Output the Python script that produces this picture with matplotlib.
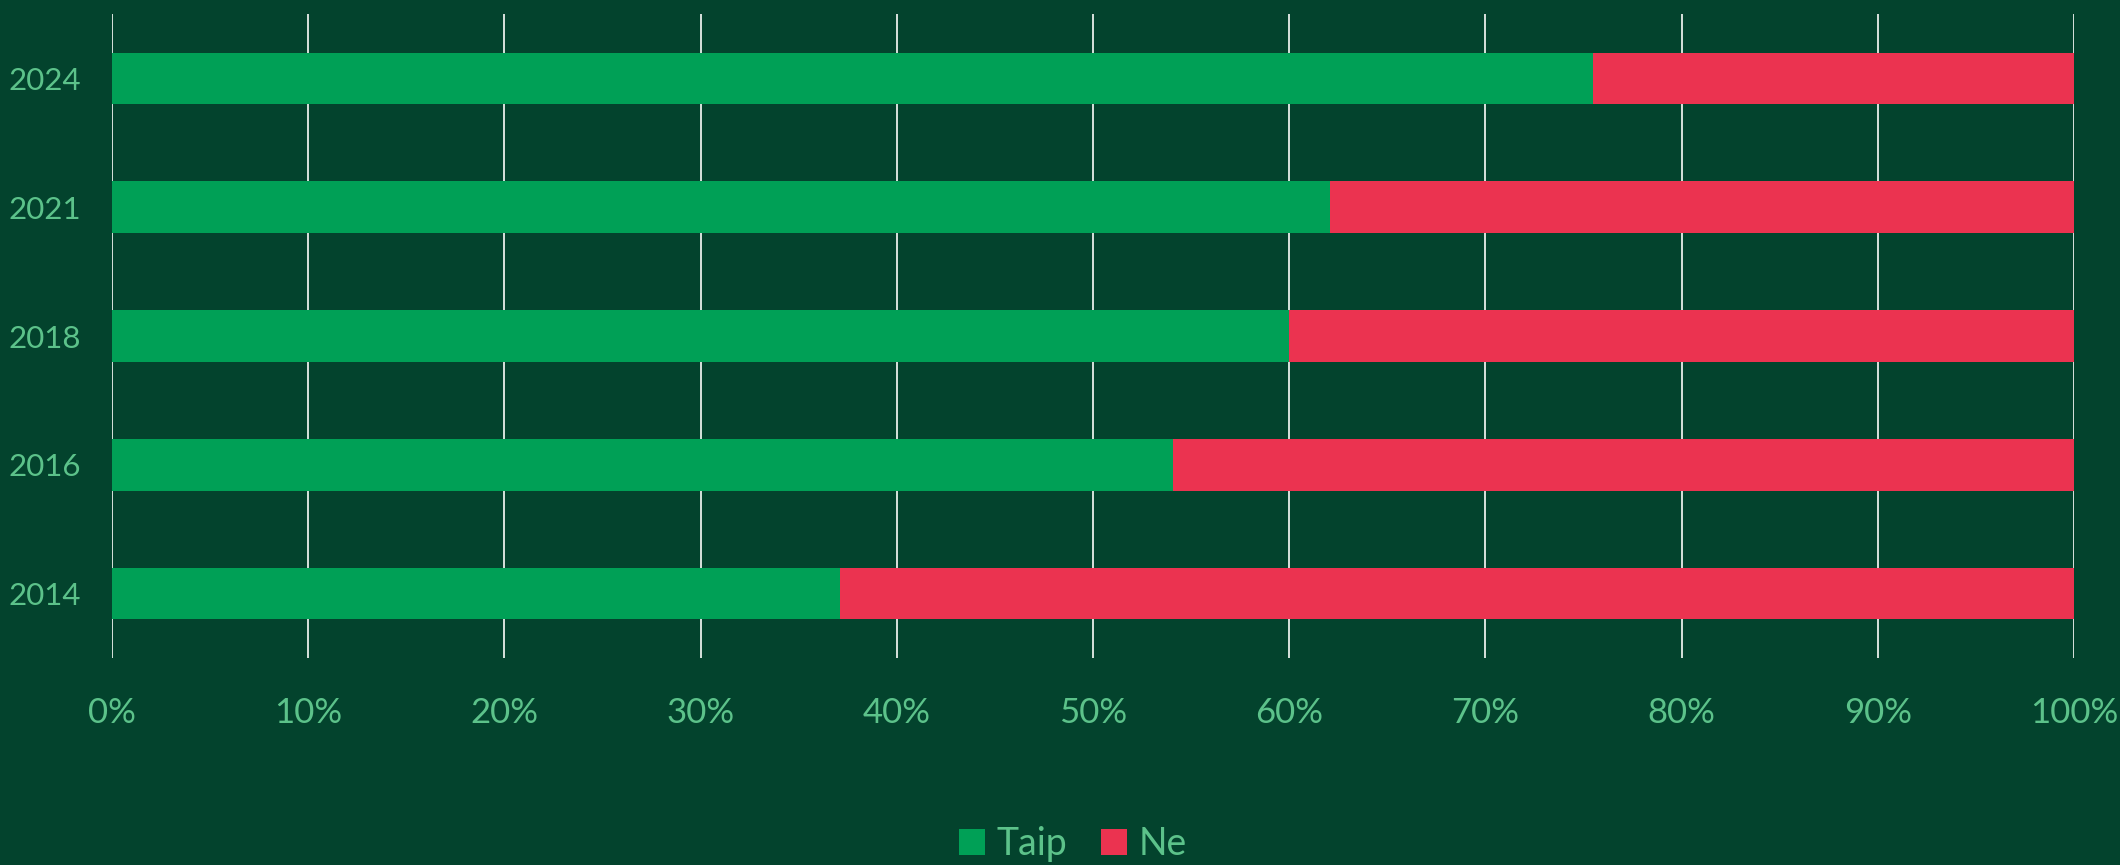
import matplotlib
matplotlib.use("Agg")
import matplotlib.pyplot as plt
from matplotlib.patches import Patch
from matplotlib.ticker import FuncFormatter, MultipleLocator

years = ["2014", "2016", "2018", "2021", "2024"]
taip = [37.1, 54.1, 60.0, 62.1, 75.5]
ne = [100 - v for v in taip]
series_names = ["Taip", "Ne"]

BG = "#03432d"
GREEN = "#00a056"
RED = "#eb3350"
TXT = "#5cc28a"
GRID = "#d8e2dc"

plt.rcParams["font.family"] = ["Lato", "DejaVu Sans"]

fig = plt.figure(figsize=(21.2, 8.65), dpi=100, facecolor=BG)
ax = fig.add_axes([0.0528, 0.2393, 0.9255, 0.7445])
ax.set_facecolor("none")

y = list(range(len(years)))
ax.barh(y, taip, height=0.4, color=GREEN, zorder=3)
ax.barh(y, ne, left=taip, height=0.4, color=RED, zorder=3)

ax.set_xlim(0, 100)
ax.set_ylim(-0.5, len(years) - 0.5)
ax.xaxis.set_major_locator(MultipleLocator(10))
ax.xaxis.set_major_formatter(FuncFormatter(lambda v, p: f"{int(round(v))}%"))
ax.set_yticks(y)
ax.set_yticklabels(years)
ax.grid(axis="x", color=GRID, linewidth=1.4, zorder=1)
ax.grid(axis="y", visible=False)
for s in ax.spines.values():
    s.set_visible(False)
ax.tick_params(axis="both", length=0, labelcolor=TXT)
ax.tick_params(axis="x", labelsize=25, pad=28)
ax.tick_params(axis="y", labelsize=22.5, pad=22)
for lab in ax.get_xticklabels() + ax.get_yticklabels():
    lab.set_color(TXT)
    lab.set_fontweight("normal")

handles = [Patch(facecolor=GREEN, label=series_names[0]),
           Patch(facecolor=RED, label=series_names[1])]
leg = fig.legend(handles=handles, loc="center", bbox_to_anchor=(0.506, 0.024),
                 ncol=2, frameon=False, fontsize=27, handlelength=0.7,
                 handleheight=0.7, handletextpad=0.3, columnspacing=0.9)
for t in leg.get_texts():
    t.set_color(TXT)

fig.savefig("out.png", dpi=100, facecolor=BG)
